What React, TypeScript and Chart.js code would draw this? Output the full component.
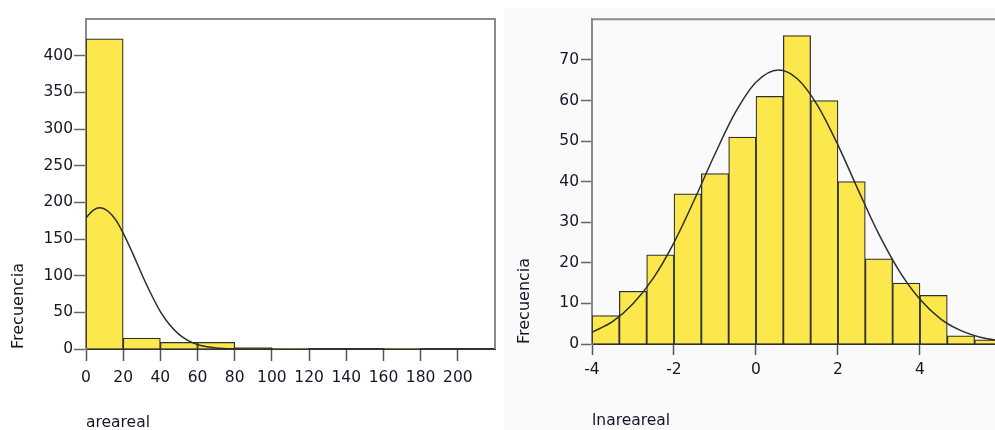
import { useEffect, useRef } from "react";
import { Chart, registerables } from "chart.js";

Chart.register(...registerables);

// ---------- Left histogram: areareal ----------
const areaBinCenters = [10, 30, 50, 70, 90, 110, 130, 150, 170];
const areaCounts = [423, 15, 9, 9, 2, 1, 0, 0, 1];
const areaCurveX = [0, 4, 7.5, 12, 16, 20, 25, 30, 35, 40, 45, 50, 55, 60, 65, 70, 80, 90, 100];
const areaCurveY = [179, 189.5, 192.5, 187.5, 176, 158, 131, 102, 75, 51, 33, 20, 11.5, 6, 3, 1.5, 0.3, 0, 0];
const areaXTicks = [0, 20, 40, 60, 80, 100, 120, 140, 160, 180, 200];
const areaYTicks = [0, 50, 100, 150, 200, 250, 300, 350, 400];

// ---------- Right histogram: lnareareal ----------
const lnBinCenters = [-3.667, -3, -2.333, -1.667, -1, -0.333, 0.333, 1, 1.667, 2.333, 3, 3.667, 4.333, 5, 5.667];
const lnCounts = [7, 13, 22, 37, 42, 51, 61, 76, 60, 40, 21, 15, 12, 2, 1];
const lnCurveX = [-4, -3.5, -3, -2.5, -2, -1.5, -1, -0.5, 0, 0.55, 1, 1.5, 2, 2.5, 3, 3.5, 4, 4.5, 5, 5.5, 6];
const lnCurveY = [2.9, 5.5, 9.9, 16.3, 25, 35.6, 46.8, 57.1, 64.5, 67.5, 65.4, 58.8, 49, 37.8, 27, 17.9, 11, 6.2, 3.3, 1.6, 0.7];
const lnXTicks = [-4, -2, 0, 2, 4];
const lnYTicks = [0, 10, 20, 30, 40, 50, 60, 70];

const yTitle = "Frecuencia";
const FONT = "'DejaVu Sans', Verdana, sans-serif";
const TEXT = "#161626";
const BAR_FILL = "#FCE84C";
const BAR_EDGE = "#303030";

function framePlugin(sides: { top?: boolean; right?: boolean }, color: string, width: number) {
  return {
    id: "frame",
    afterDraw(chart: any) {
      const { ctx, chartArea } = chart;
      ctx.save();
      ctx.strokeStyle = color;
      ctx.lineWidth = width;
      ctx.beginPath();
      if (sides.top) {
        ctx.moveTo(chartArea.left - 1, chartArea.top);
        ctx.lineTo(chartArea.right + 1, chartArea.top);
      }
      if (sides.right) {
        ctx.moveTo(chartArea.right, chartArea.top);
        ctx.lineTo(chartArea.right, chartArea.bottom);
      }
      ctx.stroke();
      ctx.restore();
    },
  };
}

function makeConfig(p: {
  centers: number[];
  counts: number[];
  curveX: number[];
  curveY: number[];
  xTicks: number[];
  yTicks: number[];
  xMin: number;
  xMax: number;
  yMax: number;
  xTitle: string;
  yWidth: number;
  xHeight: number;
  padTop: number;
  padRight: number;
  yTickLen: number;
  yTickPad: number;
  xTickLen: number;
  xTickPad: number;
  yTitlePad: number;
  xTitlePadBottom: number;
  frameSides: { top?: boolean; right?: boolean };
}) {
  return {
    type: "bar" as const,
    data: {
      datasets: [
        {
          type: "line" as const,
          data: p.curveX.map((x, i) => ({ x, y: p.curveY[i] })),
          borderColor: "#2e2e2e",
          borderWidth: 1.5,
          pointRadius: 0,
          fill: false,
          cubicInterpolationMode: "monotone" as const,
          order: 0,
        },
        {
          type: "bar" as const,
          data: p.centers.map((x, i) => ({ x, y: p.counts[i] })),
          backgroundColor: BAR_FILL,
          borderColor: BAR_EDGE,
          borderWidth: 1.25,
          barPercentage: 1,
          categoryPercentage: 1,
          order: 1,
        },
      ],
    },
    options: {
      responsive: false,
      animation: false as const,
      devicePixelRatio: 1,
      layout: { padding: { top: p.padTop, right: p.padRight, left: 0, bottom: 0 } },
      plugins: { legend: { display: false }, tooltip: { enabled: false } },
      scales: {
        x: {
          type: "linear" as const,
          min: p.xMin,
          max: p.xMax,
          offset: false,
          afterBuildTicks: (s: any) => {
            s.ticks = p.xTicks.map((v) => ({ value: v }));
          },
          afterFit: (s: any) => {
            s.height = p.xHeight;
          },
          grid: {
            display: true,
            offset: false,
            drawOnChartArea: false,
            drawTicks: true,
            tickLength: p.xTickLen,
            tickColor: "#555555",
            tickWidth: 1.5,
          },
          border: { display: true, color: "#333333", width: 2 },
          ticks: {
            font: { family: FONT, size: 15.5 },
            color: TEXT,
            padding: p.xTickPad,
            maxRotation: 0,
            autoSkip: false,
          },
          title: {
            display: true,
            text: p.xTitle,
            align: "start" as const,
            font: { family: FONT, size: 15.5 },
            color: TEXT,
            padding: { top: 0, bottom: p.xTitlePadBottom },
          },
        },
        y: {
          type: "linear" as const,
          min: 0,
          max: p.yMax,
          afterBuildTicks: (s: any) => {
            s.ticks = p.yTicks.map((v) => ({ value: v }));
          },
          afterFit: (s: any) => {
            s.width = p.yWidth;
          },
          grid: {
            display: true,
            drawOnChartArea: false,
            drawTicks: true,
            tickLength: p.yTickLen,
            tickColor: "#666666",
            tickWidth: 1.5,
          },
          border: { display: true, color: "#8a8a8a", width: 2 },
          ticks: {
            font: { family: FONT, size: 15.5 },
            color: TEXT,
            padding: p.yTickPad,
            autoSkip: false,
          },
          title: {
            display: true,
            text: yTitle,
            align: "start" as const,
            font: { family: FONT, size: 16 },
            color: TEXT,
            padding: { top: p.yTitlePad, bottom: 0 },
          },
        },
      },
    },
    plugins: [framePlugin(p.frameSides, "#8a8a8a", 2)],
  };
}

export default function App() {
  const leftRef = useRef<HTMLCanvasElement | null>(null);
  const rightRef = useRef<HTMLCanvasElement | null>(null);

  useEffect(() => {
    const left = new Chart(
      leftRef.current as HTMLCanvasElement,
      makeConfig({
        centers: areaBinCenters,
        counts: areaCounts,
        curveX: areaCurveX,
        curveY: areaCurveY,
        xTicks: areaXTicks,
        yTicks: areaYTicks,
        xMin: 0,
        xMax: 220,
        yMax: 450,
        xTitle: "areareal",
        yWidth: 86,
        xHeight: 91,
        padTop: 19,
        padRight: 2,
        yTickLen: 12,
        yTickPad: 1,
        xTickLen: 12,
        xTickPad: 8,
        yTitlePad: 9,
        xTitlePadBottom: 7.7,
        frameSides: { top: true, right: true },
      }) as any
    );
    const right = new Chart(
      rightRef.current as HTMLCanvasElement,
      makeConfig({
        centers: lnBinCenters,
        counts: lnCounts,
        curveX: lnCurveX,
        curveY: lnCurveY,
        xTicks: lnXTicks,
        yTicks: lnYTicks,
        xMin: -4,
        xMax: 5.83,
        yMax: 80,
        xTitle: "lnareareal",
        yWidth: 88,
        xHeight: 86,
        padTop: 6,
        padRight: 0,
        yTickLen: 11,
        yTickPad: 2,
        xTickLen: 11,
        xTickPad: 6,
        yTitlePad: 11.5,
        xTitlePadBottom: 0,
        frameSides: { top: true },
      }) as any
    );
    return () => {
      left.destroy();
      right.destroy();
    };
  }, []);

  return (
    <div
      style={{
        position: "absolute",
        left: 0,
        top: 0,
        width: 995,
        height: 430,
        overflow: "hidden",
        background: "#ffffff",
      }}
    >
      <canvas
        ref={leftRef}
        width={497}
        height={440}
        style={{ position: "absolute", left: 0, top: 0, width: 497, height: 440 }}
      />
      <canvas
        ref={rightRef}
        width={491}
        height={422}
        style={{
          position: "absolute",
          left: 504,
          top: 8,
          width: 491,
          height: 422,
          background: "#fafafa",
        }}
      />
    </div>
  );
}
